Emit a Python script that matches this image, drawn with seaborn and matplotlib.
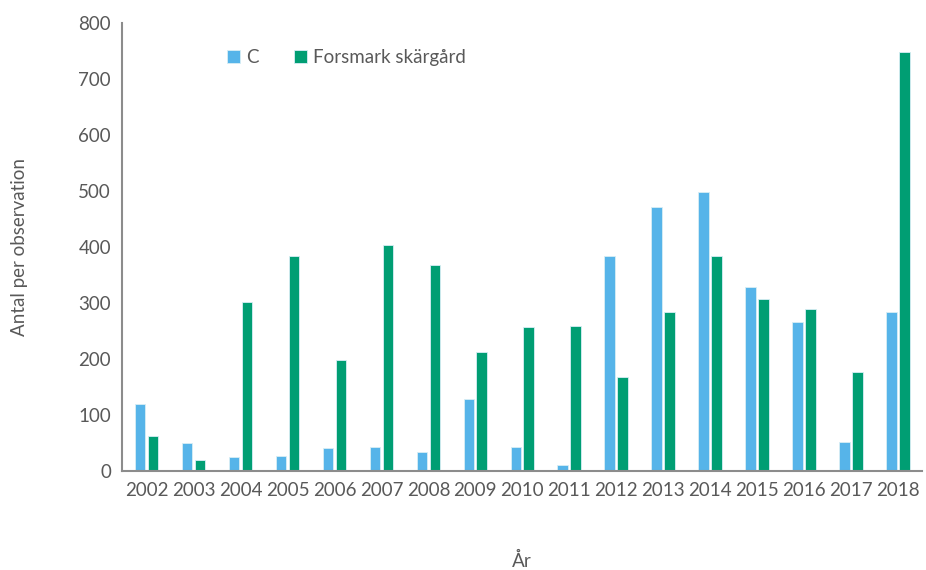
import numpy as np
import pandas as pd
import matplotlib
matplotlib.use("Agg")
import matplotlib.pyplot as plt
import seaborn as sns

# ── DATA ─────────────────────────────────────────────────────
years      = [str(y) for y in range(2002, 2019)]
c_values   = [119, 49, 25, 26, 41, 42, 33, 128, 43, 10, 384, 471, 497, 328, 265, 51, 284]
forsmark   = [62, 19, 302, 383, 198, 404, 368, 212, 257, 259, 167, 284, 384, 307, 289, 177, 747]
series     = ["C", "Forsmark skärgård"]
colors     = ["#56B4E9", "#009E73"]

df = pd.DataFrame({
    "År": years * 2,
    "value": c_values + forsmark,
    "serie": [series[0]] * len(years) + [series[1]] * len(years),
})

# ── PLOT ─────────────────────────────────────────────────────
sns.set_theme(style="white")
plt.rcParams["font.family"] = ["Lato", "DejaVu Sans"]
txt = "#595959"
fs = 13.5

fig = plt.figure(figsize=(9.26, 5.7), dpi=100)
ax = fig.add_axes([0.132, 0.174, 0.864, 0.786])

sns.barplot(data=df, x="År", y="value", hue="serie", palette=colors, saturation=1,
            width=0.55, gap=0.18, edgecolor="#d8eef5", linewidth=0.6, ax=ax)

ax.set_ylim(0, 800)
ax.set_xlim(-0.52, 16.52)
ax.set_yticks(range(0, 801, 100))
ax.tick_params(axis="both", length=0, labelsize=fs, colors=txt, pad=8)
ax.set_xlabel("År", fontsize=fs, color=txt, labelpad=38)
ax.set_ylabel("Antal per observation", fontsize=fs, color=txt, labelpad=36)

for s in ["top", "right"]:
    ax.spines[s].set_visible(False)
for s in ["left", "bottom"]:
    ax.spines[s].set_color("#8c8c8c")
    ax.spines[s].set_linewidth(1.5)

leg = ax.legend(loc="upper left", bbox_to_anchor=(0.11, 0.98), ncol=2, frameon=False,
                fontsize=fs, handlelength=0.7, handleheight=0.7, handletextpad=0.3,
                columnspacing=1.9)
for t in leg.get_texts():
    t.set_color(txt)

fig.savefig("out.png", dpi=100)
